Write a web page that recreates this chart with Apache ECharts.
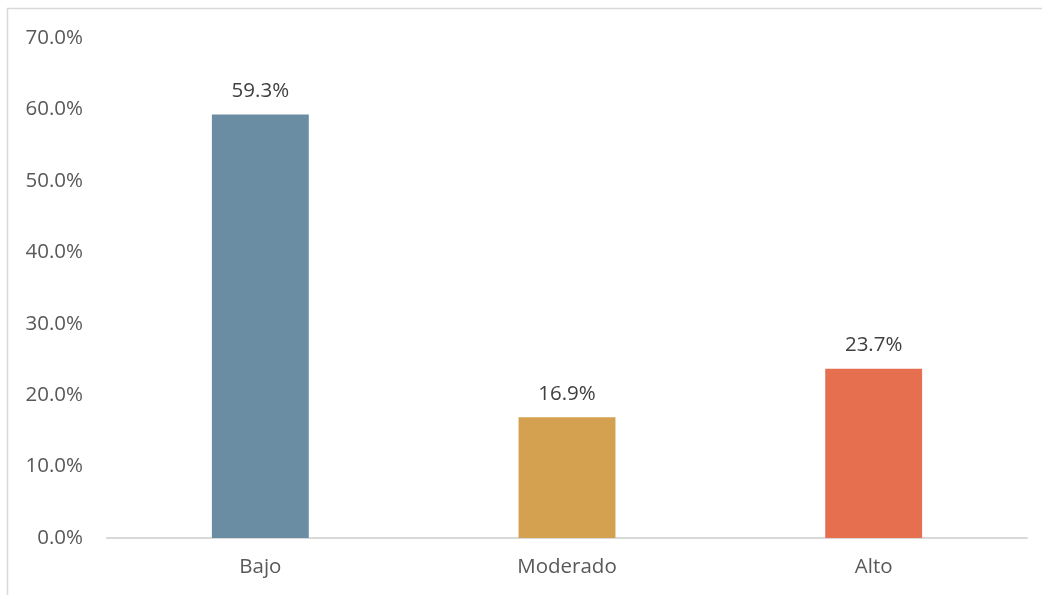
<!DOCTYPE html>
<html>
<head>
<meta charset="utf-8">
<script src="https://cdn.jsdelivr.net/npm/echarts@6/dist/echarts.min.js"></script>
<style>
  html, body { margin: 0; padding: 0; background: #fff; }
  #chart { width: 1042px; height: 595px; }
</style>
</head>
<body>
<div id="chart"></div>
<script>
const categories = ["Bajo", "Moderado", "Alto"];
const values = [59.3, 16.9, 23.7];
const barColors = ["#6a8da4", "#d4a150", "#e56f4f"];

const chart = echarts.init(document.getElementById("chart"));
const font = "'Open Sans', 'Noto Sans', sans-serif";

const option = {
  animation: false,
  backgroundColor: "#fff",
  graphic: [
    {
      type: "polyline",
      shape: { points: [[7.5, 600], [7.5, 8.5], [1042, 8.5]] },
      style: { stroke: "#d9d9d9", lineWidth: 1.5, fill: null },
      silent: true
    }
  ],
  grid: { left: 107, right: 15, top: 38, bottom: 57 },
  xAxis: {
    type: "category",
    data: categories,
    axisLine: { show: true, lineStyle: { color: "#d9d9d9", width: 2 } },
    axisTick: { show: false },
    axisLabel: { color: "#595959", fontSize: 20.5, fontFamily: font, margin: 19 }
  },
  yAxis: {
    type: "value",
    min: 0,
    max: 70,
    interval: 10,
    axisLine: { show: false },
    axisTick: { show: false },
    splitLine: { show: false },
    axisLabel: {
      color: "#595959",
      fontSize: 20.5,
      fontFamily: font,
      margin: 24,
      formatter: (v) => v.toFixed(1) + "%"
    }
  },
  series: [
    {
      type: "bar",
      barWidth: "31.6%",
      data: values.map((v, i) => ({ value: v, itemStyle: { color: barColors[i] } })),
      label: {
        show: true,
        position: "top",
        distance: 13,
        color: "#404040",
        fontSize: 20.5,
        fontFamily: font,
        formatter: (p) => p.value.toFixed(1) + "%"
      }
    }
  ]
};

chart.setOption(option);
</script>
</body>
</html>
